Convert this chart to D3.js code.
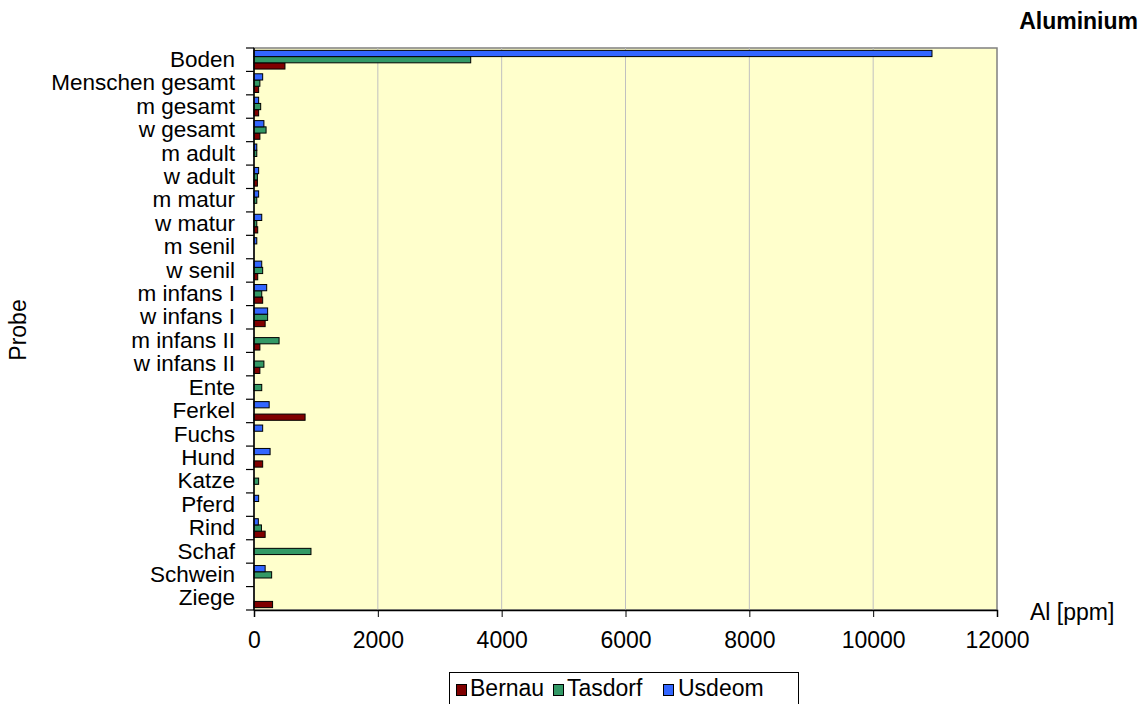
<!DOCTYPE html>
<html>
<head>
<meta charset="utf-8">
<script src="https://cdn.jsdelivr.net/npm/d3@7"></script>
<style>
  body { margin: 0; background: #fff; }
  svg { display: block; font-family: "Liberation Sans", Arial, sans-serif; }
</style>
</head>
<body>
<svg id="chart" width="1147" height="704"></svg>
<script>
// Aluminium content (ppm) per sample type and site
const categories = ["Boden", "Menschen gesamt", "m gesamt", "w gesamt", "m adult", "w adult",
  "m matur", "w matur", "m senil", "w senil", "m infans I", "w infans I", "m infans II",
  "w infans II", "Ente", "Ferkel", "Fuchs", "Hund", "Katze", "Pferd", "Rind", "Schaf",
  "Schwein", "Ziege"];
const seriesNames = ["Bernau", "Tasdorf", "Usdeom"];
const bernau  = [500, 75, 75, 95, 0, 55, 0, 60, 0, 60, 140, 180, 95, 95, 0, 825, 0, 140, 0, 0, 180, 0, 0, 300];
const tasdorf = [3500, 95, 108, 195, 45, 55, 45, 45, 0, 140, 125, 220, 405, 160, 125, 0, 0, 0, 75, 0, 120, 920, 285, 0];
const usdeom  = [10950, 140, 75, 160, 45, 75, 75, 125, 45, 125, 205, 220, 0, 0, 0, 245, 140, 260, 0, 75, 70, 0, 180, 0];
const xTicks = [0, 2000, 4000, 6000, 8000, 10000, 12000];
const colors = ["#800000", "#339966", "#3366FF"];

const svg = d3.select("#chart");
const plotL = 254, plotR = 997, plotT = 48, plotB = 610;
const FS = 23;

const x = d3.scaleLinear().domain([0, 12000]).range([plotL, plotR]);
const y = d3.scaleBand().domain(categories).range([plotT, plotB]).paddingInner(0).paddingOuter(0);
// bars inside each band: Usdeom on top, then Tasdorf, then Bernau
const inner = d3.scaleBand().domain(["Usdeom", "Tasdorf", "Bernau"])
  .range([0, y.bandwidth()]).paddingOuter(0.38).paddingInner(0);

// plot background
svg.append("rect").attr("x", plotL).attr("y", plotT)
  .attr("width", plotR - plotL).attr("height", plotB - plotT)
  .attr("fill", "#FFFFCC").attr("stroke", "#808080").attr("stroke-width", 1.5);

// vertical gridlines
svg.append("g").selectAll("line").data(xTicks.slice(1, -1)).join("line")
  .attr("x1", d => x(d)).attr("x2", d => x(d))
  .attr("y1", plotT).attr("y2", plotB)
  .attr("stroke", "#C0C0C0").attr("stroke-width", 1);

// bars
const series = [
  { name: "Bernau", values: bernau, color: colors[0] },
  { name: "Tasdorf", values: tasdorf, color: colors[1] },
  { name: "Usdeom", values: usdeom, color: colors[2] }
];
const barG = svg.append("g");
series.forEach(s => {
  barG.append("g").selectAll("rect")
    .data(categories.map((c, i) => ({ c, v: s.values[i] })).filter(d => d.v > 0))
    .join("rect")
    .attr("x", x(0))
    .attr("y", d => y(d.c) + inner(s.name))
    .attr("width", d => x(d.v) - x(0))
    .attr("height", inner.bandwidth())
    .attr("fill", s.color)
    .attr("stroke", "#000").attr("stroke-width", 1);
});

// x axis
const xAxis = svg.append("g").attr("transform", `translate(0,${plotB})`)
  .call(d3.axisBottom(x).tickValues(xTicks).tickFormat(d3.format("d")).tickSize(7).tickPadding(15));
xAxis.select(".domain").attr("stroke", "#000").attr("stroke-width", 1.5);
xAxis.selectAll("text").attr("font-size", FS).attr("fill", "#000")
  .attr("font-family", "Liberation Sans, Arial, sans-serif");

// y axis: ticks at band boundaries, labels centered in bands
const yg = svg.append("g");
yg.append("line").attr("x1", plotL).attr("x2", plotL).attr("y1", plotT).attr("y2", plotB)
  .attr("stroke", "#000").attr("stroke-width", 1.5);
yg.selectAll("line.tick").data(categories.concat([null])).join("line")
  .attr("class", "tick")
  .attr("x1", plotL - 8).attr("x2", plotL)
  .attr("y1", (d, i) => plotT + i * y.step()).attr("y2", (d, i) => plotT + i * y.step())
  .attr("stroke", "#000").attr("stroke-width", 1.2);
yg.selectAll("text").data(categories).join("text")
  .attr("x", 235).attr("y", d => y(d) + y.bandwidth() / 2)
  .attr("dy", "0.32em").attr("text-anchor", "end")
  .attr("font-size", FS - 0.5).attr("fill", "#000").text(d => d);

// axis titles
svg.append("text").attr("x", 1030).attr("y", 620).attr("font-size", FS).text("Al [ppm]");
svg.append("text").attr("transform", "translate(26,330) rotate(-90)")
  .attr("text-anchor", "middle").attr("font-size", FS).text("Probe");
svg.append("text").attr("x", 1138).attr("y", 29).attr("text-anchor", "end")
  .attr("font-size", FS).attr("font-weight", "bold").text("Aluminium");

// legend
const lg = svg.append("g");
lg.append("rect").attr("x", 449.5).attr("y", 672.5).attr("width", 349).attr("height", 32)
  .attr("fill", "#fff").attr("stroke", "#000").attr("stroke-width", 1);
const markerX = [456, 553, 663];
const labelX = [470, 567, 678];
series.forEach((s, i) => {
  lg.append("rect").attr("x", markerX[i] + 0.5).attr("y", 684.5).attr("width", 10).attr("height", 11)
    .attr("fill", s.color).attr("stroke", "#000").attr("stroke-width", 1);
  lg.append("text").attr("x", labelX[i]).attr("y", 696)
    .attr("font-size", FS).text(s.name);
});
</script>
</body>
</html>
